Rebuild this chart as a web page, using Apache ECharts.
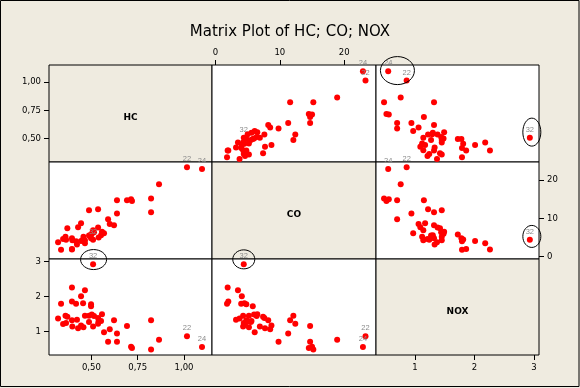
<!DOCTYPE html>
<html>
<head>
<meta charset="utf-8">
<script src="https://cdn.jsdelivr.net/npm/echarts@6/dist/echarts.min.js"></script>
<style>
html,body{margin:0;padding:0;background:#efebe0;}
#c{width:580px;height:388px;}
</style>
</head>
<body>
<div id="c"></div>
<script>
// ---- data (one entry per observation, obs number = index + 1) ----
const varNames = ['HC', 'CO', 'NOX'];
const HC = [0.32, 0.36, 0.347, 0.363, 0.395, 0.397, 0.457, 0.465, 0.487, 0.502,
            0.539, 0.557, 0.422, 0.37, 0.428, 0.444, 0.536, 0.509, 0.514, 0.568,
            0.552, 1.016, 0.865, 1.097, 0.822, 0.822, 0.692, 0.714, 0.719, 0.638,
            0.487, 0.509, 0.536, 0.638, 0.59, 0.599, 0.622, 0.395, 0.395, 0.336,
            0.465, 0.444, 0.417, 0.455, 0.498, 0.498];
const CO = [3.75, 5.2, 4.6, 4.4, 4.8, 4.3, 5.2, 4.3, 5.5, 6.0,
            5.0, 6.5, 3.2, 7.4, 7.7, 8.7, 7.6, 6.9, 6.4, 6.1,
            5.6, 23.3, 18.9, 22.9, 15.2, 11.6, 14.7, 15.0, 14.5, 14.7,
            12.1, 4.4, 12.4, 11.3, 9.8, 8.5, 8.2, 1.9, 2.0, 1.8,
            3.5, 4.1, 4.0, 4.5, 4.8, 5.8];
const NOX = [1.37, 1.45, 1.21, 1.24, 1.32, 1.14, 1.12, 1.45, 1.27, 1.48,
             1.29, 1.49, 1.33, 1.42, 1.09, 1.17, 1.38, 1.14, 1.44, 0.97,
             1.30, 0.86, 0.76, 0.55, 0.48, 1.32, 1.15, 0.56, 0.52, 0.70,
             1.45, 2.93, 1.22, 0.94, 0.70, 1.06, 1.32, 2.26, 1.86, 1.79,
             2.18, 2.01, 1.79, 1.81, 1.78, 1.72];
const labelledObs = [22, 24, 32];
const hcTicks = [0.50, 0.75, 1.00];
const coTicks = [0, 10, 20];
const noxTicks = [1, 2, 3];

// ---- layout / style ----
const vars = [HC, CO, NOX];
const ticks = [hcTicks, coTicks, noxTicks];
const xRange = [[0.271, 1.151], [-0.53, 24.93], [0.345, 3.084]];
const yRange = [[0.293, 1.153], [-0.6, 24.7], [0.32, 3.078]];
const fmt = [v => v.toFixed(2).replace('.', ','), v => String(v), v => String(v)];
const colX = [49, 212, 376, 539];
const rowY = [65, 162, 259, 355];
const BEIGE = '#efebe0';
const FONT = 'DejaVu Sans';
const xLabelSide = {'2,0': 'bottom', '2,2': 'bottom', '0,1': 'top'};
const yLabelSide = {'0,0': 'left', '2,0': 'left', '1,2': 'right'};

function axisDef(v, g, side, range) {
  if (!side) {
    return {type: 'value', gridIndex: g, min: range[v][0], max: range[v][1], show: false};
  }
  return {
    type: 'value', gridIndex: g, min: range[v][0], max: range[v][1], position: side,
    axisLine: {show: false}, splitLine: {show: false},
    axisTick: {show: true, length: 5, lineStyle: {color: '#000', width: 1}, customValues: ticks[v]},
    axisLabel: {show: true, margin: 8, customValues: ticks[v], formatter: fmt[v],
                color: '#000', fontSize: 8.5, fontFamily: FONT}
  };
}

const grids = [], xAxes = [], yAxes = [], series = [];
for (let r = 0; r < 3; r++) {
  for (let c = 0; c < 3; c++) {
    const g = r * 3 + c;
    const key = r + ',' + c;
    grids.push({
      left: colX[c], top: rowY[r], width: colX[c + 1] - colX[c], height: rowY[r + 1] - rowY[r],
      show: true, backgroundColor: r === c ? BEIGE : '#ffffff',
      borderColor: '#000', borderWidth: 1, containLabel: false, outerBoundsMode: 'none'
    });
    xAxes.push(axisDef(c, g, xLabelSide[key], xRange));
    yAxes.push(axisDef(r, g, yLabelSide[key], yRange));
    if (r !== c) {
      series.push({
        type: 'scatter', xAxisIndex: g, yAxisIndex: g, symbol: 'circle', symbolSize: 6,
        itemStyle: {color: '#ff0000', opacity: 1}, emphasis: {disabled: true}, silent: true,
        label: {show: false, position: 'top', distance: 1, color: '#8a8a8a',
                fontSize: 7.5, fontFamily: 'Liberation Sans'},
        data: HC.map((_, i) => {
          const item = {value: [vars[c][i], vars[r][i]]};
          if (labelledObs.includes(i + 1)) item.label = {show: true, formatter: String(i + 1)};
          return item;
        })
      });
    }
  }
}

const chart = echarts.init(document.getElementById('c'), null, {renderer: 'canvas'});
chart.setOption({
  animation: false,
  backgroundColor: BEIGE,
  title: {
    text: 'Matrix Plot of HC; CO; NOX', left: 'center', top: 20,
    textStyle: {fontSize: 15, fontWeight: 'normal', color: '#000', fontFamily: FONT}
  },
  grid: grids, xAxis: xAxes, yAxis: yAxes, series: series
});

// annotation rings around labelled observations
const rings = [
  {cell: [0, 2], obs: [22, 24], dx: 0, dy: -5.3, rx: 17, ry: 14},
  {cell: [0, 2], obs: [32], dx: 2, dy: -5.5, rx: 9, ry: 14},
  {cell: [1, 2], obs: [32], dx: 2, dy: -3.4, rx: 9, ry: 11},
  {cell: [2, 0], obs: [32], dx: 0.5, dy: -4.6, rx: 13, ry: 10},
  {cell: [2, 1], obs: [32], dx: 0, dy: -4.8, rx: 11, ry: 9.5}
];
const graphics = [];
rings.forEach(rg => {
  const [r, c] = rg.cell;
  const g = r * 3 + c;
  let sx = 0, sy = 0;
  rg.obs.forEach(o => {
    const p = chart.convertToPixel({gridIndex: g}, [vars[c][o - 1], vars[r][o - 1]]);
    sx += p[0]; sy += p[1];
  });
  graphics.push({
    type: 'ellipse', silent: true, z: 100,
    shape: {cx: sx / rg.obs.length + rg.dx, cy: sy / rg.obs.length + rg.dy, rx: rg.rx, ry: rg.ry},
    style: {fill: 'none', stroke: '#000', lineWidth: 1}
  });
});
// diagonal variable names
for (let d = 0; d < 3; d++) {
  graphics.push({
    type: 'text', silent: true, z: 50,
    x: (colX[d] + colX[d + 1]) / 2, y: (rowY[d] + rowY[d + 1]) / 2 + 4.5,
    style: {text: varNames[d], fill: '#000', font: 'bold 9px "DejaVu Sans"',
            textAlign: 'center', textVerticalAlign: 'middle'}
  });
}
// outer frame
graphics.push({
  type: 'rect', silent: true, z: 100,
  shape: {x: 0.5, y: 0.5, width: 578.5, height: 386},
  style: {fill: 'none', stroke: '#000', lineWidth: 1}
});
chart.setOption({graphic: graphics});
</script>
</body>
</html>
